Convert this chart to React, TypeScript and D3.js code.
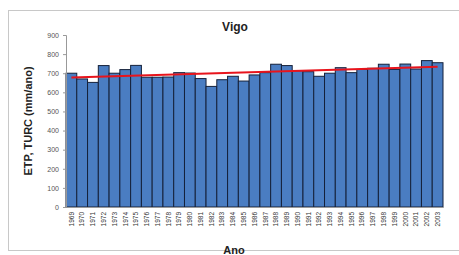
import { useEffect, useRef } from "react";
import * as d3 from "d3";

const years = [
	"1969", "1970", "1971", "1972", "1973", "1974", "1975", "1976", "1977", "1978",
	"1979", "1980", "1981", "1982", "1983", "1984", "1985", "1986", "1987", "1988",
	"1989", "1990", "1991", "1992", "1993", "1994", "1995", "1996", "1997", "1998",
	"1999", "2000", "2001", "2002", "2003",
];
const etp = [
	700, 670, 652, 740, 700, 719, 741, 679, 679, 680,
	703, 701, 672, 631, 666, 684, 659, 691, 703, 747,
	740, 713, 708, 684, 700, 729, 703, 720, 726, 747,
	720, 748, 722, 766, 755,
];
const yTicks = [0, 100, 200, 300, 400, 500, 600, 700, 800, 900];

export default function App() {
	const svgRef = useRef<SVGSVGElement>(null);

	useEffect(() => {
		if (!svgRef.current) return;
		const svg = d3.select(svgRef.current);
		svg.selectAll("*").remove();

		const width = 459;
		const height = 255;
		const margin = { top: 35, left: 66 };
		const innerWidth = 443 - margin.left;
		const innerHeight = 207 - margin.top;
		const font = "Arial, 'Liberation Sans', sans-serif";

		svg.append("rect").attr("width", width).attr("height", height).style("fill", "#fff");
		svg.append("rect")
			.attr("x", 8.5).attr("y", 10.5)
			.attr("width", 460).attr("height", 240)
			.style("fill", "none").style("stroke", "#c8c8c8");

		const g = svg.append("g").attr("transform", `translate(${margin.left},${margin.top})`);

		const xScale = d3.scaleBand().domain(years).range([0, innerWidth]).padding(0);
		const yScale = d3.scaleLinear().domain([0, 900]).range([innerHeight, 0]);

		g.selectAll(".bar")
			.data(etp)
			.enter()
			.append("rect")
			.attr("class", "bar")
			.attr("x", (_, i) => xScale(years[i]) || 0)
			.attr("y", d => yScale(d))
			.attr("width", xScale.bandwidth())
			.attr("height", d => innerHeight - yScale(d))
			.style("fill", "#4a7dc2")
			.style("stroke", "#15213a")
			.style("stroke-width", 1);

		// linear trend
		const xs = etp.map((_, i) => i);
		const mx = d3.mean(xs) || 0;
		const my = d3.mean(etp) || 0;
		const slope = d3.sum(xs, x => (x - mx) * (etp[x] - my)) / d3.sum(xs, x => (x - mx) ** 2);
		const icpt = my - slope * mx;
		const half = xScale.bandwidth() / 2;
		g.append("line")
			.attr("x1", (xScale(years[0]) || 0) + half)
			.attr("x2", (xScale(years[years.length - 1]) || 0) + half)
			.attr("y1", yScale(icpt))
			.attr("y2", yScale(icpt + slope * (years.length - 1)))
			.style("stroke", "#e8141c")
			.style("stroke-width", 2);

		const yAxis = g.append("g")
			.call(d3.axisLeft(yScale).tickValues(yTicks).tickSize(3).tickPadding(4));
		yAxis.selectAll("text")
			.style("fill", "#555")
			.style("font-size", "7px")
			.style("font-family", font);

		const xAxis = g.append("g")
			.attr("transform", `translate(0,${innerHeight})`)
			.call(d3.axisBottom(xScale).tickSize(0).tickPadding(4));
		xAxis.selectAll("text")
			.attr("transform", "rotate(-90)")
			.attr("x", -5)
			.attr("y", 0)
			.attr("dy", "0.35em")
			.style("text-anchor", "end")
			.style("fill", "#333")
			.style("font-size", "6.5px")
			.style("font-family", font);

		g.selectAll(".domain").style("stroke", "#999");
		g.selectAll(".tick line").style("stroke", "#999");

		svg.append("text")
			.attr("x", 235).attr("y", 31)
			.attr("text-anchor", "middle")
			.style("font-family", font)
			.style("font-weight", "bold")
			.style("font-size", "12px")
			.style("fill", "#222")
			.text("Vigo");

		svg.append("text")
			.attr("transform", `translate(32,${(35 + 207) / 2}) rotate(-90)`)
			.attr("text-anchor", "middle")
			.style("font-family", font)
			.style("font-weight", "bold")
			.style("font-size", "11px")
			.style("fill", "#222")
			.text("ETP, TURC (mm/ano)");

		svg.append("text")
			.attr("x", 234).attr("y", 254)
			.attr("text-anchor", "middle")
			.style("font-family", font)
			.style("font-weight", "bold")
			.style("font-size", "11px")
			.style("fill", "#222")
			.text("Ano");
	}, []);

	return (
		<svg
			ref={svgRef}
			width={459}
			height={255}
			style={{ position: "absolute", left: 0, top: 0, display: "block" }}
		/>
	);
}
